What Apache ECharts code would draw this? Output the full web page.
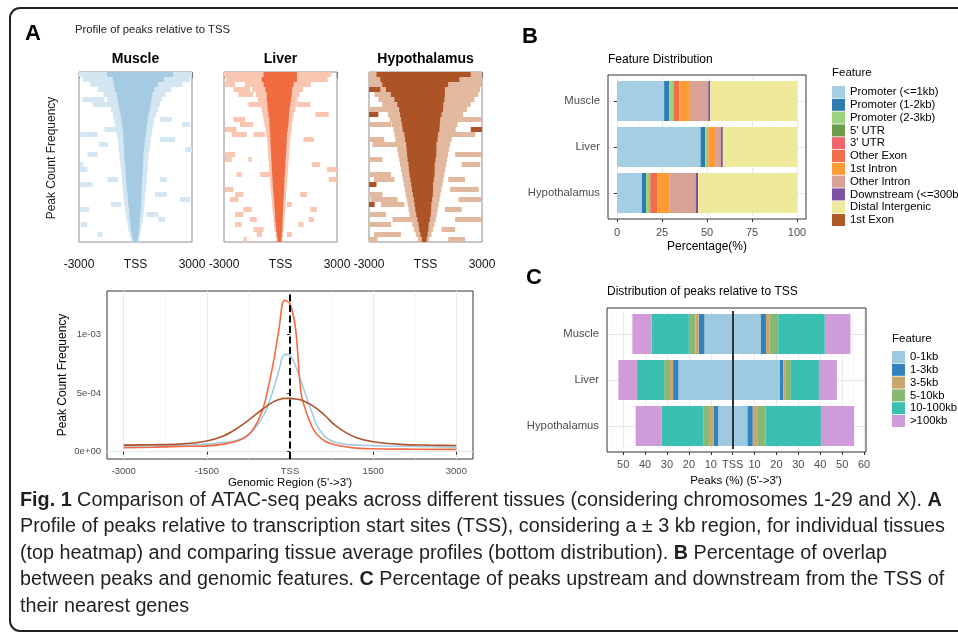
<!DOCTYPE html>
<html>
<head>
<meta charset="utf-8">
<script src="https://cdn.jsdelivr.net/npm/echarts@6/dist/echarts.min.js"></script>
<style>
html, body { margin: 0; background: #fff; }
#chart { width: 958px; height: 640px; }
</style>
</head>
<body>
<div id="chart"></div>
<script>
var FONT = '"Liberation Sans", Arial, Helvetica, sans-serif';

// ---- panel A, top: peak heatmaps (34 row bands, bp relative to TSS) ----
var heatRows = 34;
var muscleCore = [[-1500,2000],[-1200,1500],[-1150,1200],[-1100,1000],[-1000,900],[-950,850],[-900,800],[-850,760],[-800,700],[-750,650],[-700,600],[-680,580],[-650,550],[-650,500],[-620,480],[-600,450],[-600,420],[-580,400],[-560,400],[-540,400],[-520,380],[-500,360],[-480,340],[-450,330],[-420,320],[-400,310],[-380,300],[-350,280],[-330,260],[-300,240],[-270,220],[-250,190],[-200,160],[-150,120]];
var muscleHalo = [[-3000,3000],[-2800,2900],[-2400,2500],[-2000,1900],[-1700,1600],[-1500,1400],[-1400,1300],[-1300,1200],[-1200,1100],[-1150,1000],[-1100,950],[-1050,900],[-1000,850],[-950,800],[-900,780],[-900,750],[-850,700],[-850,680],[-800,650],[-780,650],[-750,620],[-720,600],[-700,580],[-680,550],[-650,520],[-620,500],[-600,480],[-560,450],[-520,420],[-480,380],[-420,340],[-380,300],[-320,250],[-250,200]];
var muscleStrays = [[5,-2820,-1660],[6,-2280,-1300],[9,1300,1920],[10,2460,2900],[11,-1650,-940],[12,-2940,-2010],[13,1300,2100],[14,-1920,-1480],[15,2640,3000],[16,-2550,-2010],[18,-2940,-2760],[19,-2940,-2550],[21,-1480,-940],[21,1300,1660],[22,-2940,-2280],[24,1030,1660],[25,2370,2910],[26,-1300,-760],[27,-2940,-2460],[28,580,1210],[29,1210,1570],[30,-2900,-2550],[32,-2010,-1750]];

var liverCore = [[-900,870],[-1000,870],[-900,700],[-800,620],[-730,600],[-730,560],[-700,520],[-680,480],[-640,450],[-600,430],[-590,420],[-570,380],[-550,340],[-540,330],[-530,320],[-510,300],[-500,290],[-490,270],[-470,260],[-460,250],[-440,230],[-420,210],[-410,200],[-390,190],[-370,180],[-340,160],[-330,150],[-310,140],[-290,120],[-280,110],[-250,100],[-230,90],[-190,70],[-160,50]];
var liverHalo = [[-3000,2700],[-2900,2500],[-1900,1600],[-1500,1200],[-1300,1000],[-1200,900],[-1100,850],[-1000,800],[-950,700],[-900,650],[-850,600],[-800,600],[-760,550],[-720,520],[-700,500],[-680,480],[-660,460],[-640,440],[-620,420],[-600,400],[-580,380],[-560,360],[-540,340],[-520,320],[-500,300],[-470,280],[-450,270],[-430,250],[-400,230],[-380,210],[-350,190],[-320,170],[-270,140],[-220,100]];
var liverStrays = [[2,-2950,-2410],[3,-2500,-1620],[4,-2240,-1440],[6,-1700,-900],[6,870,1580],[8,1850,2560],[9,-2500,-1880],[10,-2150,-1440],[11,-2950,-2330],[12,-2590,-1790],[12,-1440,-820],[13,1220,1760],[16,-2950,-2410],[17,-2950,-2590],[17,-1700,-1530],[18,1670,2110],[19,2470,3000],[20,-2330,-2060],[20,-1080,-550],[21,2560,3000],[23,-2950,-2500],[24,1050,1400],[24,-2410,-1970],[25,-2680,-2240],[26,340,600],[27,-1970,-1530],[27,1580,1930],[28,-2410,-1970],[29,1490,1760],[29,-1620,-1260],[30,960,1220],[30,-2410,-2060],[31,-1440,-900],[32,340,600],[32,-1260,-990],[33,-1970,-1790]];

var hypoCore = [[-2600,2400],[-2400,1800],[-2300,1200],[-2100,1030],[-1840,1030],[-1650,1000],[-1500,950],[-1400,930],[-1350,850],[-1300,780],[-1250,760],[-1210,740],[-1120,670],[-1080,640],[-1030,580],[-1000,580],[-980,570],[-950,530],[-900,490],[-880,490],[-850,480],[-800,440],[-760,400],[-720,400],[-670,390],[-620,350],[-580,310],[-540,300],[-490,280],[-430,230],[-370,170],[-330,150],[-270,110],[-190,60]];
var hypoHalo = [[-3000,3000],[-3000,3000],[-3000,3000],[-2900,2900],[-2700,2800],[-2500,2600],[-2300,2400],[-2200,2200],[-2000,2000],[-1900,1900],[-1800,1700],[-1700,1600],[-1650,1500],[-1600,1400],[-1550,1300],[-1500,1250],[-1450,1200],[-1400,1150],[-1350,1100],[-1300,1050],[-1250,1000],[-1200,950],[-1150,900],[-1100,850],[-1050,800],[-1000,750],[-950,700],[-900,650],[-850,600],[-780,550],[-700,480],[-620,400],[-520,320],[-400,200]];
var hypoStrays = [[3,-3000,-2400,1],[7,-3000,-1650],[8,-3000,-2500,1],[9,1570,3000],[10,-3000,-1830],[11,2400,3000,1],[12,1030,2640],[13,-3000,-2190],[14,-2820,-1300],[16,1570,3000],[17,-3000,-2280],[18,1920,2910],[20,-3000,-1830],[21,1210,2100],[21,-2730,-1650],[22,-3000,-2600,1],[23,1300,2820],[24,-3000,-2280],[25,1750,3000],[25,-2910,-1480],[26,-2370,-1120],[26,-3000,-2700,1],[27,1030,1920],[28,-3000,-2100],[29,-1750,-760],[29,1570,3000],[30,-3000,-1830],[31,850,1570],[32,-2730,-1300],[33,-3000,-2550],[33,1210,2100]];

// ---- panel A, bottom: average profiles (values in units of 1e-4) ----
var profileX = [-3000,-2500,-2000,-1500,-1200,-1000,-800,-650,-500,-400,-300,-200,-100,0,100,200,300,400,500,650,800,1000,1200,1500,2000,2500,3000];
var muscleProfile = [0.48,0.50,0.55,0.65,0.78,0.92,1.3,1.9,2.9,3.9,5.3,6.9,8.3,8.2,7.3,6.0,4.6,3.3,2.1,1.2,0.83,0.63,0.56,0.52,0.47,0.42,0.39];
var liverProfile = [0.34,0.38,0.45,0.50,0.65,0.85,1.25,2.0,3.5,5.3,7.6,10.4,12.9,12.6,10.5,5.0,3.3,2.1,1.4,0.85,0.62,0.43,0.31,0.25,0.22,0.20,0.20];
var hypoProfile = [0.56,0.60,0.65,0.92,1.35,1.85,2.5,3.05,3.6,3.95,4.25,4.45,4.55,4.55,4.5,4.4,4.2,3.95,3.6,3.0,2.3,1.65,1.2,0.85,0.63,0.56,0.53];
var profileTicks = [-3000, -1500, 0, 1500, 3000];
var profileMinor = [-2250, -750, 750, 2250];
var freqTicks = [0, 5e-4, 1e-3];
var freqMinor = [2.5e-4, 7.5e-4, 1.25e-3];

// ---- panel B: feature distribution (% per tissue: Muscle, Liver, Hypothalamus) ----
var tissues = ['Muscle', 'Liver', 'Hypothalamus'];
var featureNames = ['Promoter (<=1kb)', 'Promoter (1-2kb)', 'Promoter (2-3kb)', "5' UTR", "3' UTR", 'Other Exon', '1st Intron', 'Other Intron', 'Downstream (<=300bp)', 'Distal Intergenic', '1st Exon'];
var featureColors = ['#a6cee3', '#2d7db3', '#9bd27e', '#6b9c4a', '#f0666a', '#f06e48', '#fe9b35', '#d9a296', '#7c53a3', '#efe99c', '#b05a2a'];
var featurePct = [
  [26.2, 46.4, 13.9],
  [2.8, 2.6, 2.2],
  [2.2, 1.1, 2.0],
  [0.2, 0.1, 0.3],
  [0.3, 0.2, 0.4],
  [3.0, 0.4, 3.5],
  [5.8, 3.7, 6.7],
  [10.2, 3.2, 14.7],
  [1.1, 1.1, 1.3],
  [48.2, 41.2, 55.0],
  [0, 0, 0]
];
var pctTicks = [0, 25, 50, 75, 100];
var pctMinor = [12.5, 37.5, 62.5, 87.5];

// ---- panel C: distance to TSS (% upstream / downstream) ----
var tssBins = ['0-1kb', '1-3kb', '3-5kb', '5-10kb', '10-100kb', '>100kb'];
var tssColors = ['#9ecae1', '#3182bd', '#c9a66b', '#89b874', '#3bbfb1', '#cf9bd8'];
var upstreamPct = [
  [12.9, 24.8, 6.7],
  [2.6, 2.4, 2.0],
  [1.5, 1.4, 1.7],
  [3.0, 2.7, 3.0],
  [17.0, 12.5, 19.0],
  [8.8, 8.4, 11.9]
];
var downstreamPct = [
  [12.9, 21.6, 6.8],
  [2.3, 1.5, 2.4],
  [1.7, 1.2, 2.0],
  [3.9, 2.3, 3.8],
  [21.3, 12.8, 25.3],
  [11.7, 8.2, 15.2]
];
var distTicks = [-50, -40, -30, -20, -10, 0, 10, 20, 30, 40, 50, 60];
var distMinor = [-55, -45, -35, -25, -15, -5, 5, 15, 25, 35, 45, 55];

var captionLines = [
  '{b|Fig. 1} Comparison of ATAC-seq peaks across different tissues (considering chromosomes 1-29 and X). {b|A}',
  'Profile of peaks relative to transcription start sites (TSS), considering a \u00b1 3 kb region, for individual tissues',
  '(top heatmap) and comparing tissue average profiles (bottom distribution). {b|B} Percentage of overlap',
  'between peaks and genomic features. {b|C} Percentage of peaks upstream and downstream from the TSS of',
  'their nearest genes'
];

//build heat rows: halo first, strays, then the dense core on top
function heatData(halo, core, strays) {
  var d = [];
  halo.forEach(function (r, i) { d.push([i, r[0], r[1], 0]); });
  strays.forEach(function (s) { d.push([s[0], s[1], s[2], s[3] || 0]); });
  core.forEach(function (r, i) { d.push([i, r[0], r[1], 1]); });
  return d;
}

function heatRender(colors) {
  return function (params, api) {
    var a = api.coord([api.value(1), api.value(0)]);
    var b = api.coord([api.value(2), api.value(0) + 1]);
    return {
      type: 'rect',
      shape: { x: a[0], y: a[1], width: b[0] - a[0], height: b[1] - a[1] },
      style: { fill: colors[api.value(3)] }
    };
  };
}

function sci(v) {
  return Number(v).toExponential(0).replace(/e([+-])(\d)$/, 'e$10$2');
}

function gridLines(xi, yi, xs, ys, color, width) {
  var d = [];
  xs.forEach(function (v) { d.push({ xAxis: v }); });
  ys.forEach(function (v) { d.push({ yAxis: v }); });
  return {
    type: 'line', xAxisIndex: xi, yAxisIndex: yi, data: [], silent: true, z: 0,
    markLine: {
      silent: true, z: 0, symbol: ['none', 'none'], label: { show: false }, animation: false,
      lineStyle: { color: color, width: width, type: 'solid' }, data: d
    }
  };
}

function txt(x, y, s, size, extra) {
  var st = { text: s, fontSize: size, fontFamily: FONT, fill: '#000',
    align: 'left', textAlign: 'left', verticalAlign: 'middle', textVerticalAlign: 'middle' };
  for (var k in extra) st[k] = extra[k];
  return { type: 'text', x: x, y: y, style: st };
}
function ctxt(x, y, s, size, extra) {
  var o = txt(x, y, s, size, extra);
  o.style.align = 'center'; o.style.textAlign = 'center';
  return o;
}

var chart = echarts.init(document.getElementById('chart'), null, { renderer: 'canvas' });

var heatX = [79, 224, 369];
var heatTitles = ['Muscle', 'Liver', 'Hypothalamus'];
var heatColors = [['#d3e6f1', '#a4cbe1'], ['#f9c6b2', '#f06b40'], ['#e2b89f', '#ad5427']];
var heatSets = [
  heatData(muscleHalo, muscleCore, muscleStrays),
  heatData(liverHalo, liverCore, liverStrays),
  heatData(hypoHalo, hypoCore, hypoStrays)
];

var grids = [], xAxes = [], yAxes = [], series = [];

heatX.forEach(function (left, i) {
  grids.push({ left: left, top: 72, width: 113, height: 170, show: true, borderColor: '#8c8c8c', borderWidth: 1, outerBoundsMode: 'none' });
  xAxes.push({
    gridIndex: i, type: 'value', min: -3000, max: 3000, interval: 1000,
    axisLine: { show: false }, splitLine: { show: false },
    axisTick: { show: true, length: 6, lineStyle: { color: '#777' } },
    axisLabel: {
      showMinLabel: true, showMaxLabel: true, margin: 17, fontSize: 12, color: '#111', fontFamily: FONT,
      formatter: function (v) { return v === 0 ? 'TSS' : (Math.abs(v) === 3000 ? String(v) : ''); }
    }
  });
  yAxes.push({ gridIndex: i, type: 'value', min: 0, max: heatRows, inverse: true, show: false });
  series.push({
    type: 'custom', name: heatTitles[i] + ' heatmap', xAxisIndex: i, yAxisIndex: i,
    dimensions: ['row', 'x0', 'x1', 'shade'], encode: { x: [1, 2], y: 0 },
    renderItem: heatRender(heatColors[i]), data: heatSets[i], silent: true
  });
});

// panel A bottom
grids.push({ left: 107, top: 291, width: 366, height: 168, show: true, borderColor: '#333', borderWidth: 1, outerBoundsMode: 'none' });
xAxes.push({
  gridIndex: 3, type: 'value', min: -3300, max: 3300,
  axisLine: { show: false }, splitLine: { show: false },
  axisTick: { show: true, customValues: profileTicks, length: 3, lineStyle: { color: '#333' } },
  axisLabel: { customValues: profileTicks, margin: 7, fontSize: 9.5, color: '#4d4d4d', fontFamily: FONT,
    formatter: function (v) { return v === 0 ? 'TSS' : String(v); } }
});
yAxes.push({
  gridIndex: 3, type: 'value', min: -6.2e-5, max: 1.37e-3,
  axisLine: { show: false }, splitLine: { show: false },
  axisTick: { show: true, customValues: freqTicks, length: 3, lineStyle: { color: '#333' } },
  axisLabel: { customValues: freqTicks, margin: 6, fontSize: 9.5, color: '#4d4d4d', fontFamily: FONT, formatter: sci }
});
series.push(gridLines(3, 3, profileMinor, freqMinor, '#f3f3f3', 0.6));
series.push(gridLines(3, 3, profileTicks, freqTicks, '#e8e8e8', 1));
[['Muscle', muscleProfile, '#a3cce3'], ['Liver', liverProfile, '#f46a43'], ['Hypothalamus', hypoProfile, '#b0552a']].forEach(function (p) {
  series.push({
    type: 'line', name: p[0], xAxisIndex: 3, yAxisIndex: 3, smooth: 0.35, symbol: 'none', showSymbol: false, z: 3,
    lineStyle: { width: 1.6, color: p[2] }, itemStyle: { color: p[2] },
    data: profileX.map(function (x, k) { return [x, p[1][k] * 1e-4]; })
  });
});
series.push({
  type: 'line', xAxisIndex: 3, yAxisIndex: 3, data: [], silent: true, z: 6,
  markLine: { silent: true, z: 6, symbol: ['none', 'none'], label: { show: false }, animation: false,
    lineStyle: { color: '#000', width: 2, type: [7, 3.5] }, data: [{ xAxis: 0 }] }
});

// panel B
grids.push({ left: 608, top: 78, width: 198, height: 138, outerBoundsMode: 'none' });
xAxes.push({
  gridIndex: 4, type: 'value', min: -5, max: 105, offset: 3,
  axisLine: { show: false }, splitLine: { show: false },
  axisTick: { show: true, customValues: pctTicks, length: 3, lineStyle: { color: '#333' } },
  axisLabel: { customValues: pctTicks, margin: 8, fontSize: 11, color: '#4d4d4d', fontFamily: FONT }
});
yAxes.push({
  gridIndex: 4, type: 'category', data: tissues, inverse: true,
  axisLine: { show: false }, splitLine: { show: false },
  axisTick: { show: true, alignWithLabel: true, length: 3, lineStyle: { color: '#333' } },
  axisLabel: { margin: 8, fontSize: 11.3, color: '#4d4d4d', fontFamily: FONT }
});
series.push(gridLines(4, 4, pctMinor, [], '#f3f3f3', 0.6));
series.push(gridLines(4, 4, pctTicks, tissues, '#e8e8e8', 1));
featureNames.forEach(function (n, k) {
  series.push({ type: 'bar', name: n, xAxisIndex: 4, yAxisIndex: 4, stack: 'feature', barWidth: 40, z: 2,
    itemStyle: { color: featureColors[k] }, data: featurePct[k] });
});

// panel C
grids.push({ left: 607, top: 311, width: 259, height: 138, outerBoundsMode: 'none' });
xAxes.push({
  gridIndex: 5, type: 'value', min: -57.4, max: 60.9, offset: 3,
  axisLine: { show: false }, splitLine: { show: false },
  axisTick: { show: true, customValues: distTicks, length: 3, lineStyle: { color: '#333' } },
  axisLabel: { customValues: distTicks, margin: 7, fontSize: 11, color: '#4d4d4d', fontFamily: FONT,
    formatter: function (v) { return v === 0 ? 'TSS' : String(Math.abs(v)); } }
});
yAxes.push({
  gridIndex: 5, type: 'category', data: tissues, inverse: true,
  axisLine: { show: false }, splitLine: { show: false },
  axisTick: { show: true, alignWithLabel: true, length: 3, lineStyle: { color: '#333' } },
  axisLabel: { margin: 8, fontSize: 11.3, color: '#4d4d4d', fontFamily: FONT }
});
series.push(gridLines(5, 5, distMinor, [], '#f3f3f3', 0.6));
series.push(gridLines(5, 5, distTicks, tissues, '#e8e8e8', 1));
tssBins.forEach(function (n, k) {
  series.push({ type: 'bar', name: n, xAxisIndex: 5, yAxisIndex: 5, stack: 'tss', barWidth: 40, z: 2,
    itemStyle: { color: tssColors[k] }, data: upstreamPct[k].map(function (v) { return -v; }) });
  series.push({ type: 'bar', name: n, xAxisIndex: 5, yAxisIndex: 5, stack: 'tss', barWidth: 40, z: 2,
    itemStyle: { color: tssColors[k] }, data: downstreamPct[k] });
});
series.push({
  type: 'line', xAxisIndex: 5, yAxisIndex: 5, data: [], silent: true, z: 6,
  markLine: { silent: true, z: 6, symbol: ['none', 'none'], label: { show: false }, animation: false,
    lineStyle: { color: '#333', width: 2, type: 'solid' }, data: [{ xAxis: 0 }] }
});

// caption scaling: condensed look from a horizontally squeezed sans
var measure = document.createElement('canvas').getContext('2d');
measure.font = '20px "Liberation Sans"';
var capScale = 925 / measure.measureText(captionLines[1]).width;

var graphics = [
  { type: 'rect', shape: { x: 10, y: 8, width: 1000, height: 623, r: 10 }, style: { fill: 'none', stroke: '#222', lineWidth: 2 }, z: 100 },
  txt(25, 34, 'A', 22, { fontWeight: 'bold' }),
  txt(522, 37, 'B', 22, { fontWeight: 'bold' }),
  txt(526, 278, 'C', 22, { fontWeight: 'bold' }),
  txt(75, 30, 'Profile of peaks relative to TSS', 11.3, { fill: '#222' }),
  { type: 'text', x: 52, y: 158, rotation: Math.PI / 2, style: { text: 'Peak Count Frequency', fontSize: 12, fontFamily: FONT, fill: '#222', align: 'center', textAlign: 'center', verticalAlign: 'middle', textVerticalAlign: 'middle' } },
  { type: 'text', x: 63, y: 375, rotation: Math.PI / 2, style: { text: 'Peak Count Frequency', fontSize: 12, fontFamily: FONT, fill: '#000', align: 'center', textAlign: 'center', verticalAlign: 'middle', textVerticalAlign: 'middle' } },
  ctxt(290, 483, "Genomic Region (5'->3')", 11.5),
  txt(608, 60, 'Feature Distribution', 12),
  ctxt(707, 247, 'Percentage(%)', 12),
  txt(832, 73, 'Feature', 11.5),
  txt(607, 292, 'Distribution of peaks relative to TSS', 12),
  ctxt(736, 481, "Peaks (%) (5'->3')", 11.5),
  txt(892, 339, 'Feature', 11.5),
  { type: 'rect', shape: { x: 608, y: 75, width: 198, height: 144 }, style: { fill: 'none', stroke: '#333', lineWidth: 1 }, z: 50 },
  { type: 'rect', shape: { x: 607, y: 308, width: 259, height: 144 }, style: { fill: 'none', stroke: '#333', lineWidth: 1 }, z: 50 }
];
heatX.forEach(function (left, i) {
  graphics.push(ctxt(left + 56.5, 59, heatTitles[i], 14, { fontWeight: 'bold' }));
});
captionLines.forEach(function (line, i) {
  graphics.push({
    type: 'text', x: 20, y: 500 + i * 26.6, scaleX: capScale,
    style: {
      text: line, fontSize: 20, fontFamily: '"Liberation Sans", Arial, sans-serif', fill: '#231f20',
      verticalAlign: 'middle', textVerticalAlign: 'middle',
      rich: { b: { fontWeight: 'bold', fontSize: 20, fontFamily: '"Liberation Sans", Arial, sans-serif', fill: '#231f20' } }
    }
  });
});

var legendBase = {
  orient: 'vertical', itemWidth: 13, itemHeight: 12, itemGap: 0.8, icon: 'rect', padding: 0,
  selectedMode: false, itemStyle: { borderWidth: 0 },
  textStyle: { fontSize: 11.3, color: '#000', fontFamily: FONT, lineHeight: 12 }
};
var legends = [
  Object.assign({}, legendBase, { left: 832, top: 86, data: featureNames }),
  Object.assign({}, legendBase, { left: 892, top: 351, data: tssBins })
];

chart.setOption({
  animation: false,
  backgroundColor: '#fff',
  textStyle: { fontFamily: FONT },
  grid: grids,
  xAxis: xAxes,
  yAxis: yAxes,
  legend: legends,
  tooltip: { show: false },
  graphic: { elements: graphics },
  series: series
});
</script>
</body>
</html>
